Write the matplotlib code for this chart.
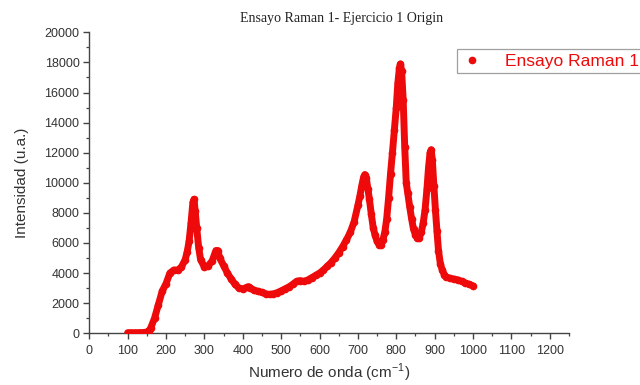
import matplotlib
matplotlib.use("Agg")
import matplotlib.pyplot as plt
from matplotlib.ticker import MultipleLocator

# Raman spectrum: wavenumber (cm^-1) and intensity (a.u.)
wavenumber = [100, 110, 120, 130, 140, 150, 155, 160, 170, 180, 190, 200, 210, 220, 230,
              240, 250, 255, 260, 265, 270, 273, 276, 280, 285, 290, 300, 310, 320, 330,
              335, 340, 350, 360, 370, 380, 390, 400, 410, 415, 420, 430, 440, 450, 460,
              470, 480, 490, 500, 510, 520, 530, 540, 550, 560, 570, 580, 590, 600, 610,
              620, 630, 640, 650, 660, 670, 680, 690, 700, 705, 710, 715, 718, 722, 726,
              730, 735, 740, 745, 750, 755, 760, 765, 770, 775, 780, 785, 790, 795, 800,
              804, 808, 811, 814, 818, 822, 826, 830, 835, 840, 845, 850, 855, 860, 865,
              870, 875, 880, 884, 888, 891, 894, 898, 902, 906, 910, 915, 920, 925, 930,
              940, 950, 960, 970, 980, 990, 1000]
intensity = [40, 40, 40, 45, 50, 80, 150, 350, 1000, 1900, 2800, 3300, 4000, 4200, 4200,
             4400, 4900, 5400, 6100, 7300, 8700, 8900, 8100, 7000, 5700, 4900, 4400, 4500, 4800, 5500,
             5500, 5000, 4500, 4000, 3600, 3250, 3000, 2950, 3050, 3100, 3000, 2850, 2780, 2720, 2620,
             2580, 2620, 2700, 2820, 2950, 3080, 3250, 3450, 3500, 3450, 3550, 3700, 3850, 4000, 4200,
             4450, 4700, 5000, 5350, 5750, 6200, 6700, 7400, 8500, 9100, 9800, 10400, 10550, 10300, 9600,
             8900, 7900, 7000, 6500, 6100, 5900, 5900, 6200, 6700, 7600, 9000, 10600, 12000, 13500, 15000,
             16600, 17600, 17900, 17400, 15500, 12400, 10000, 9300, 8400, 7600, 6900, 6550, 6350, 6350, 6700,
             7300, 8200, 9600, 11000, 12000, 12200, 11500, 9800, 8200, 6800, 5500, 4600, 4200, 3900, 3750,
             3650, 3600, 3550, 3450, 3350, 3250, 3150]

series_label = "Ensayo Raman 1"
title_text = "Ensayo Raman 1- Ejercicio 1 Origin"
xlabel_text = "Numero de onda (cm$^{\\mathregular{-1}}$)"
ylabel_text = "Intensidad (u.a.)"

red = "#ee0a0a"
text_gray = "#333333"

plt.rcParams["font.family"] = ["Liberation Sans", "DejaVu Sans"]

fig = plt.figure(figsize=(6.4, 3.85), dpi=100)
ax = fig.add_axes([0.1395, 0.1343, 0.7495, 0.7818])

# thick trace underneath the dense dots
ax.plot(wavenumber, intensity, color=red, lw=5, solid_capstyle="round",
        solid_joinstyle="round", zorder=2)
ax.plot(wavenumber, intensity, linestyle="none", marker="o", ms=4.5,
        color=red, mec=red, label=series_label, zorder=3)

ax.set_xlim(0, 1250)
ax.set_ylim(0, 20000)
ax.xaxis.set_major_locator(MultipleLocator(100))
ax.xaxis.set_minor_locator(MultipleLocator(50))
ax.yaxis.set_major_locator(MultipleLocator(2000))
ax.yaxis.set_minor_locator(MultipleLocator(1000))

for side in ("top", "right"):
    ax.spines[side].set_visible(False)
for side in ("left", "bottom"):
    ax.spines[side].set_color("#444444")
    ax.spines[side].set_linewidth(1.0)

ax.tick_params(which="major", direction="out", length=4.5, width=1.0,
               color="#444444", labelsize=9, labelcolor=text_gray, pad=2.5)
ax.tick_params(which="minor", direction="out", length=2.5, width=0.9, color="#444444")
ax.xaxis.set_tick_params(pad=4)

ax.set_xlabel(xlabel_text, fontsize=11, color=text_gray, labelpad=3)
ax.set_ylabel(ylabel_text, fontsize=11, color=text_gray, labelpad=11)

fig.text(0.534, 0.953, title_text, ha="center", va="center",
         fontsize=10, family="Liberation Serif", color="#222222")

leg = fig.legend(loc="upper left", bbox_to_anchor=(0.714, 0.872),
                 fontsize=12.5, frameon=True, fancybox=False, markerscale=1.0,
                 handlelength=1.2, handletextpad=1.3, borderpad=0.25,
                 borderaxespad=0)
leg.get_frame().set_edgecolor("#888888")
leg.get_frame().set_linewidth(0.9)
for t in leg.get_texts():
    t.set_color(red)

fig.savefig("out.png", dpi=100)
